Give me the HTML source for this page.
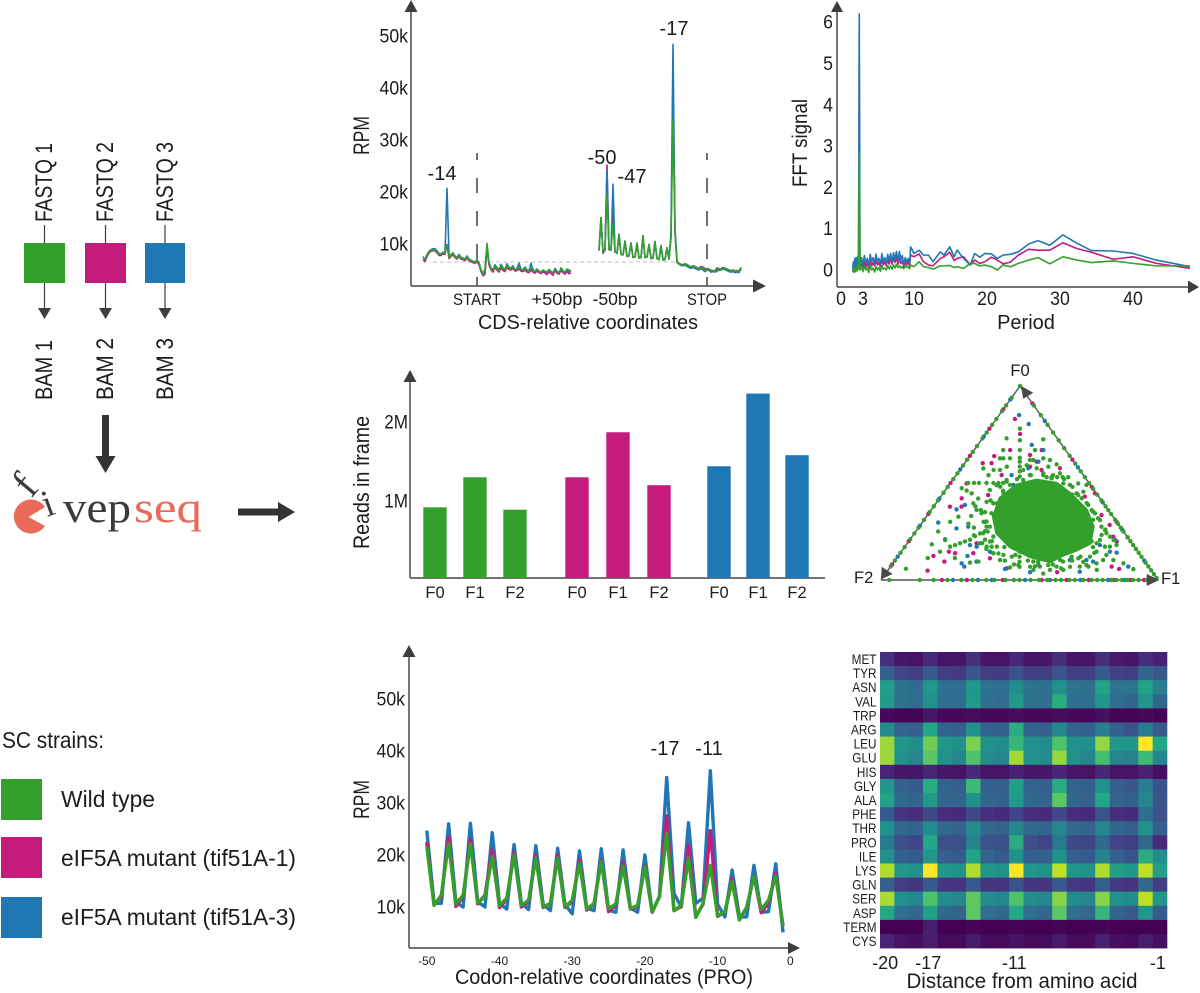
<!DOCTYPE html>
<html lang="en">
<head>
<meta charset="utf-8">
<title>fivepseq overview figure</title>
<style>
html,body{margin:0;padding:0;background:#fff;}
svg{display:block;font-family:"Liberation Sans",sans-serif;fill:#1c1c1c;}
.ax{stroke:#5f5f5f;stroke-width:1.7;fill:none;}
.hd{fill:#3d3d3d;stroke:none;}
</style>
</head>
<body>
<svg id="figure" xmlns="http://www.w3.org/2000/svg" width="1200" height="993" viewBox="0 0 1200 993">
<rect x="0" y="0" width="1200" height="993" fill="#fff"/>

<g>
  <line x1="44.5" y1="225" x2="44.5" y2="243" stroke="#3d3d3d" stroke-width="1.2"/>
  <line x1="105.5" y1="225" x2="105.5" y2="243" stroke="#3d3d3d" stroke-width="1.2"/>
  <line x1="165" y1="225" x2="165" y2="243" stroke="#3d3d3d" stroke-width="1.2"/>
  <text transform="translate(52,222) rotate(-90)" font-size="24" textLength="79" lengthAdjust="spacingAndGlyphs">FASTQ 1</text>
  <text transform="translate(113,222) rotate(-90)" font-size="24" textLength="80" lengthAdjust="spacingAndGlyphs">FASTQ 2</text>
  <text transform="translate(173,222) rotate(-90)" font-size="24" textLength="80" lengthAdjust="spacingAndGlyphs">FASTQ 3</text>
  <rect x="24" y="243" width="41" height="40" fill="#34a02c"/>
  <rect x="85" y="243" width="41" height="40" fill="#c51b7d"/>
  <rect x="145" y="243" width="40" height="40" fill="#1f78b4"/>
  <line x1="44.5" y1="283" x2="44.5" y2="310" stroke="#3d3d3d" stroke-width="1.2"/>
  <polygon class="hd" points="38,308 51,308 44.5,319"/>
  <line x1="105.5" y1="283" x2="105.5" y2="310" stroke="#3d3d3d" stroke-width="1.2"/>
  <polygon class="hd" points="99,308 112,308 105.5,319"/>
  <line x1="165" y1="283" x2="165" y2="310" stroke="#3d3d3d" stroke-width="1.2"/>
  <polygon class="hd" points="158.5,308 171.5,308 165,319"/>
  <text transform="translate(52,400) rotate(-90)" font-size="24" textLength="60" lengthAdjust="spacingAndGlyphs">BAM 1</text>
  <text transform="translate(113,400) rotate(-90)" font-size="24" textLength="62" lengthAdjust="spacingAndGlyphs">BAM 2</text>
  <text transform="translate(173,400) rotate(-90)" font-size="24" textLength="62" lengthAdjust="spacingAndGlyphs">BAM 3</text>
  <polygon fill="#333" points="102,415 109,415 109,456 115.5,456 105.5,473 95.5,456 102,456"/>
  <polygon fill="#333" points="238,508.5 278,508.5 278,502 295,512 278,522 278,515.5 238,515.5"/>
</g>

<g style="font-family:'Liberation Serif',serif">
  <path d="M28.5 517 L45 507 A17 17 0 1 0 45 526 Z" fill="#e96a58"/>
  <text transform="translate(31,499) rotate(-50)" font-size="42" fill="#3a3a3a">f</text>
  <text transform="translate(47,517) rotate(-20)" font-size="38" fill="#3a3a3a">i</text>
  <text x="63" y="522" font-size="43" fill="#3a3a3a" textLength="68" lengthAdjust="spacingAndGlyphs">vep</text>
  <text x="134" y="522" font-size="43" fill="#e96a58" textLength="68" lengthAdjust="spacingAndGlyphs">seq</text>
</g>

<g>
  <text x="2" y="748" font-size="23" textLength="102" lengthAdjust="spacingAndGlyphs">SC strains:</text>
  <rect x="1" y="779" width="41" height="41" fill="#34a02c"/>
  <text x="61" y="807" font-size="23" textLength="94" lengthAdjust="spacingAndGlyphs">Wild type</text>
  <rect x="1" y="837" width="41" height="41" fill="#c51b7d"/>
  <text x="61" y="866" font-size="23" textLength="235" lengthAdjust="spacingAndGlyphs">eIF5A mutant (tif51A-1)</text>
  <rect x="1" y="897" width="41" height="41" fill="#1f78b4"/>
  <text x="61" y="925" font-size="23" textLength="235" lengthAdjust="spacingAndGlyphs">eIF5A mutant (tif51A-3)</text>
</g>

<g id="meta">
  <line x1="433" y1="262" x2="677" y2="262" stroke="#bdbdbd" stroke-width="1" stroke-dasharray="4 3"/>
  <line x1="477" y1="153" x2="477" y2="286" stroke="#333" stroke-width="1.4" stroke-dasharray="15 18" stroke-dashoffset="8"/>
  <line x1="707" y1="153" x2="707" y2="286" stroke="#333" stroke-width="1.4" stroke-dasharray="15 18" stroke-dashoffset="8"/>
  <line class="ax" x1="411" y1="10" x2="411" y2="286"/>
  <line class="ax" x1="411" y1="286" x2="755" y2="286"/>
  <polygon class="hd" points="404.5,12 417.5,12 411,0"/>
  <polygon class="hd" points="753,279.5 753,292.5 766,286"/>
  <text transform="translate(369,155) rotate(-90)" font-size="22" textLength="39" lengthAdjust="spacingAndGlyphs">RPM</text>
  <text x="477" y="305" font-size="17" text-anchor="middle" textLength="48" lengthAdjust="spacingAndGlyphs">START</text>
  <text x="557" y="305" font-size="17.5" text-anchor="middle" textLength="51" lengthAdjust="spacingAndGlyphs">+50bp</text>
  <text x="615" y="305" font-size="17.5" text-anchor="middle" textLength="45" lengthAdjust="spacingAndGlyphs">-50bp</text>
  <text x="707" y="305" font-size="17" text-anchor="middle" textLength="40" lengthAdjust="spacingAndGlyphs">STOP</text>
  <text x="588" y="329" font-size="20" text-anchor="middle" textLength="220" lengthAdjust="spacingAndGlyphs">CDS-relative coordinates</text>
  <text x="442" y="180" font-size="20" text-anchor="middle">-14</text>
  <text x="602" y="164" font-size="20" text-anchor="middle">-50</text>
  <text x="632" y="183" font-size="20" text-anchor="middle">-47</text>
  <text x="674" y="35" font-size="20" text-anchor="middle">-17</text>
</g>

<g id="fft">
  <line class="ax" x1="837" y1="10" x2="837" y2="287"/>
  <line class="ax" x1="837" y1="287" x2="1190" y2="287"/>
  <polygon class="hd" points="831,12 843,12 837,1"/>
  <polygon class="hd" points="1188,280.5 1188,293.5 1199,287"/>
  <text transform="translate(807,187) rotate(-90)" font-size="21" textLength="88" lengthAdjust="spacingAndGlyphs">FFT signal</text>
  <text x="1026" y="329" font-size="20" text-anchor="middle">Period</text>
</g>

<g id="bars">
  <line class="ax" x1="410" y1="380" x2="410" y2="578"/>
  <line class="ax" x1="410" y1="578" x2="825" y2="578"/>
  <polygon class="hd" points="403.5,382 416.5,382 410,370"/>
  <text transform="translate(369,549) rotate(-90)" font-size="22" textLength="133" lengthAdjust="spacingAndGlyphs">Reads in frame</text>
</g>

<g id="ternary">
  <text x="1020" y="376" font-size="16.5" text-anchor="middle">F0</text>
  <text x="1161" y="584" font-size="16.5">F1</text>
  <text x="854" y="583" font-size="16.5">F2</text>
</g>

<g id="codon">
  <line class="ax" x1="409" y1="655" x2="409" y2="948"/>
  <line class="ax" x1="409" y1="948" x2="790" y2="948"/>
  <polygon class="hd" points="402.5,657 415.5,657 409,645"/>
  <polygon class="hd" points="788,942 788,954 800,948"/>
  <text transform="translate(369,819) rotate(-90)" font-size="22" textLength="39" lengthAdjust="spacingAndGlyphs">RPM</text>
  <text x="604" y="984" font-size="21" text-anchor="middle" textLength="298" lengthAdjust="spacingAndGlyphs">Codon-relative coordinates (PRO)</text>
  <text x="665" y="755" font-size="20" text-anchor="middle">-17</text>
  <text x="709" y="755" font-size="20" text-anchor="middle">-11</text>
</g>

<g id="heat">
  <text x="1022" y="988" font-size="21" text-anchor="middle" textLength="231" lengthAdjust="spacingAndGlyphs">Distance from amino acid</text>
</g>

<script>
var SERIES_COLORS = { green: '#34a02c', magenta: '#c51b7d', blue: '#1f78b4' };

/* ---------- CDS metagene data (RPM, thousands) ---------- */
var metaTickValues = [10, 20, 30, 40, 50];
var metaTickLabels = ['10k', '20k', '30k', '40k', '50k'];
var startFirstPosition = -27;
var startMagenta = [7.0,6.6,7.6,8.3,8.6,8.7,8.7,8.3,7.8,7.8,8.1,8.0,9.9,7.2,7.6,7.9,7.4,7.1,7.6,7.1,7.0,6.8,7.3,6.8,6.6,6.4,6.3,6.6,6.0,4.7,3.9,4.2,9.0,6.0,5.0,4.6,5.5,5.0,4.6,5.4,4.9,4.7,5.5,5.1,5.0,5.3,4.8,4.9,5.2,4.8,4.7,5.0,4.6,4.5,5.0,4.6,4.4,4.8,4.5,4.3,4.7,4.4,4.1,4.7,4.3,4.0,4.9,4.4,4.2,4.9,4.5,4.2,4.7,4.3,4.4];
var startBlue = [7.6,6.9,7.9,8.6,8.9,9.1,9.1,8.7,8.2,8.1,8.4,8.2,20.7,8.0,7.9,8.3,7.7,7.4,8.0,7.4,7.3,7.1,7.7,7.1,6.9,6.7,6.5,7.0,6.4,5.1,4.2,4.5,9.6,6.4,5.4,5.0,6.0,5.5,5.0,6.1,5.4,5.1,6.2,5.5,5.4,5.8,5.1,5.3,6.3,5.2,5.0,5.6,5.0,4.8,6.3,5.1,4.7,5.2,4.8,4.5,5.0,4.7,4.5,5.1,4.7,4.4,5.3,4.8,4.4,5.4,4.9,4.5,5.0,4.6,4.8];
var startGreen = [7.5,7.0,8.0,8.5,8.7,8.9,8.9,8.6,8.0,8.0,8.4,8.3,9.8,7.4,7.8,8.2,7.6,7.3,7.9,7.3,7.2,7.0,7.6,7.0,6.8,6.6,6.5,6.9,6.4,5.0,4.2,5.2,10.1,6.5,5.3,4.9,5.8,5.3,4.9,5.8,5.2,5.0,5.9,5.4,5.3,5.6,5.1,5.2,5.6,5.1,5.0,5.4,5.0,4.8,5.3,4.9,4.7,5.1,4.8,4.6,5.0,4.8,4.6,5.0,4.7,4.5,5.0,4.7,4.5,5.2,4.8,4.6,5.2,5.0,4.8];
var stopFirstPosition = -54;
var stopMagenta = [8.7,15.1,8.2,8.8,25.2,8.9,8.8,16.0,8.5,8.2,11.8,8.0,7.9,10.5,7.6,7.7,10.2,7.4,7.5,10.1,7.3,7.4,11.5,7.4,7.5,9.9,7.2,7.3,10.4,7.2,7.0,9.7,6.9,7.0,9.3,7.1,11.5,40.0,12.5,6.6,6.3,6.1,6.0,6.2,5.9,5.7,5.6,5.8,5.6,5.4,5.3,5.7,5.4,5.1,5.3,5.1,4.8,4.9,4.8,5.4,5.1,5.2,5.5,5.3,5.1,5.0,4.9,5.0,4.8,4.9,4.8,5.4];
var stopBlue = [8.8,15.0,8.4,8.8,24.2,9.0,8.9,21.5,8.5,8.3,11.9,8.1,8.0,10.6,7.7,7.8,10.2,7.5,7.6,10.2,7.4,7.5,11.6,7.5,7.6,9.9,7.3,7.4,10.5,7.3,7.1,9.7,7.0,7.1,9.3,7.2,12.0,48.4,13.0,6.5,6.1,5.9,5.8,6.0,5.7,5.5,5.3,5.5,5.3,5.1,5.0,5.3,5.0,4.7,5.0,4.9,4.6,4.7,4.6,5.1,4.9,5.0,5.3,5.1,4.9,4.7,4.6,4.7,4.5,4.6,4.5,5.2];
var stopGreen = [9.0,15.0,8.5,9.0,19.5,9.0,9.0,14.0,8.5,8.2,11.7,8.0,7.9,10.4,7.6,7.7,10.1,7.4,7.5,10.1,7.3,7.4,11.4,7.4,7.5,9.8,7.2,7.3,10.4,7.2,7.0,9.6,6.9,7.0,9.2,7.1,11.0,34.0,12.0,6.4,6.2,6.0,5.9,5.9,6.1,5.8,5.6,5.5,5.7,5.5,5.3,5.2,5.6,5.3,4.9,5.2,5.0,4.7,4.8,4.7,5.3,5.0,5.1,5.4,5.2,5.0,4.9,4.8,4.9,4.7,4.8,5.5];

/* ---------- FFT data ---------- */
var fftYTicks = [0, 1, 2, 3, 4, 5, 6];
var fftXTicks = [0, 3, 10, 20, 30, 40];
var fftPeriods = [1.6,1.7,1.8,1.9,2,2.1,2.2,2.3,2.4,2.5,2.6,
 2.8,3,3.2,3.4,3.6,3.8,4,4.2,4.4,4.6,
 4.8,5,5.2,5.4,5.6,5.8,6,6.2,6.4,6.6,
 6.8,7,7.2,7.4,7.6,7.8,8,8.2,8.4,8.6,
 8.8,9,9.2,9.4,
 9.54,10,10.7,11.3,12,12.6,13.6,14.1,14.9,15.5,15.9,16.8,17.7,18.3,19,19.7,20.6,21.4,22.2,23.2,24.3,25.7,27,28.6,30.4,32.3,34.3,37.3,40,43.2,47.8];
var fftBlue = [.05,.2,.02,.28,.08,.3,.1,.33,.15,6.2,.12,
 .3,.12,.35,.15,.28,.1,.38,.2,.3,.15,
 .38,.2,.28,.12,.4,.2,.3,.15,.38,.22,
 .4,.18,.42,.25,.45,.2,.45,.25,.35,.12,
 .3,.2,.28,.15,
 .56,.40,.48,.36,.36,.20,.44,.36,.56,.32,.48,.28,.12,.40,.31,.40,.39,.28,.36,.38,.44,.63,.71,.60,.85,.65,.47,.46,.40,.24,.08];
var fftMagenta = [0,.1,-.02,.15,.03,.16,.05,.18,.08,5.0,.06,
 .16,.06,.2,.08,.16,.06,.22,.1,.18,.1,
 .22,.12,.18,.08,.24,.12,.2,.1,.26,.14,
 .28,.14,.3,.18,.3,.14,.28,.16,.22,.08,
 .2,.12,.2,.1,
 .36,.32,.39,.20,.12,.10,.28,.32,.43,.23,.28,.32,.12,.24,.16,.20,.31,.24,.15,.19,.36,.50,.48,.48,.66,.52,.43,.26,.32,.16,.04];
var fftGreen = [-.05,.03,-.06,.06,-.04,.07,-.02,.1,.02,2.86,.0,
 .08,-.04,.1,0,.06,-.06,.1,0,.05,-.05,
 .08,0,.06,-.03,.1,.02,.05,0,.1,.03,
 .1,.02,.12,.05,.14,.06,.1,.05,.08,.03,
 .1,.06,.08,.03,
 .12,.08,.20,.08,.06,.02,.10,.10,.11,.06,.08,.04,.16,.16,.10,.12,.08,0,.12,.08,.16,.24,.30,.15,.32,.24,.18,.22,.16,.10,.10];

/* ---------- Reads in frame data (millions) ---------- */
var barFrames = ['F0', 'F1', 'F2'];
var barYTicks = [1, 2];
var barYLabels = ['1M', '2M'];
var readsGreen = [0.92, 1.30, 0.89];
var readsMagenta = [1.30, 1.87, 1.20];
var readsBlue = [1.44, 2.36, 1.58];

/* ---------- Ternary data (percent of reads in F0 and F1) ---------- */
var denseCloudF0 = [32.6,42.1,49,51.5,49.8,44.7,36.1,27.5,18.9,15.5,12.9,9.4,12,17.2,24.1];
var denseCloudF1 = [24.2,21.8,24.4,30.3,38.4,45.8,56.1,62.8,66,62.9,59.4,56.3,47.8,37.9,29.7];
var edgeLeftF0 = [3,7,10,14,17,21,24,27,31,35,38,41,45,48,52,55,59,62,66,69,73,76,80,83,87,90,94,100];
var edgeRightF0 = [1,3,5,7,9,12,14,16,18,20,22,25,27,29,31,34,36,38,41,44,47,50,53,56,60,64,68,72,76,80,85,90];
var edgeBottomF1 = [3,14,19,24,29,33,38,41,45,48,50,54,57,60,63,65,68,70,73,76,78,80,83,85,87,89,91,93,96];
var magentaEdgeLeftF0 = [8,20,34,50,64,78,88];
var magentaEdgeRightF0 = [22,30,48,62,91];
var magentaEdgeBottomF1 = [22,31,44,58,67,75,84,90,95];
var blueEdgeLeftF0 = [12,28,42,57,74,93];
var blueEdgeRightF0 = [10,26,40,58,82];
var blueEdgeBottomF1 = [26,35,40,52,61,72,82,88];
var magentaF0 = [83,75.3,67,63.9,60.2,60.2,64.4,67,61,49.8,42.1,37.8,37.8,14.6,12.4,9.5,4.8,13.8,13.8,18.9,43.8,11.2,6,4,43,33.5,28.4,22.3,19.8,6.9,5.7,44.7,57.6,56.7,58.4,54.1,43.8];
var magentaF1 = [6.7,12.4,13,8.8,6.5,9.7,21.5,24.4,25.6,5.9,8,5.9,10.1,17.2,12.7,18.1,14.4,19.8,26.4,25,16.7,33.7,42.4,61.6,52,62.8,68.3,72.7,75.2,79.8,83.1,54.8,35.7,29.5,24.5,16.4,24.6];
var blueF0 = [85,80.4,69.6,67,61,57.6,54.1,36.4,38.7,29.6,21,26.6,27.5,18,17.2,8.6,6.9,12.4,9.5,14.6,13.8,5.7,4,7.8,4.3,10.3,14.1,6.9,20.6,9.5,10.3,19,30,49,18,14.6];
var blueF1 = [7.2,13,19.5,25,26.2,24.3,20,9,10.9,5.8,12.6,13.9,17.7,23.1,25.9,24.8,26.6,25,29.7,32,33.6,41.9,51.8,52.9,69.6,69,78,85.8,74.2,71.8,63,41.3,22.5,23.2,70,75.3];
var greenF0 = [78,72,67,63,61,58.5,56,53.3,14.6,12,9.4,6.8,
 50,50,50,50,50,50,50,
 17.2,18,19,19.9,20.8,22.6,24,25.2,
 20.8,17.2,13.7,10,6.5,
 53,53,53,53,53,
 72.5,67,61.8,59.6,
 30.9,25.8,22.3,18,34.4,23.2,19,10.3,8.6,5.6,5.2,6.9,9.4,43.8,39.6,
 6.8,9.4,3.3,10.3,6.8,
 5.8,11.3,18.4,14.6,25,20.6,30,32.6,47.3,46.1,44.7,11.3,9,9.5,
 40.3,46.4,48.9,73,67,62.7,57.5,56.7,54,51.5,61.8,59.2,
 52,54,55,54,52,48,44,40,36,31,26,
 7,8,6,10,12,14,17,20,13,17,20,25,30,35,41,46,10,8,
 36,33,29,38,42,27,23,16,19,
 49,44.7,39.5,34.4,30.1,27.5,39.5,48.1,50.7,51.5,54.1,54.1,52.4,49.8,49,44.7,42.1,38.7,35.2,31.8,27.5,24.1,20.6,17.2,14.6,12,7.7,11.2,12,9.5,6.9,7.7,6.9,9.5,13.8,7.7,12,12.9,17.2,19.8,22.4,27.5,24.1,
 17.2,12.9,20.6,10.3,8.6,6.9,5.2,5.2,5.2,18.9,17.2,13.8,10.3,39.5,36.1,34.4,
 55,58.4,57.6,56.7,58.4,56.7,62.7,62.7,62.7,61.9,49.8,49,45.5];
var greenF1 = [11,14,16.5,18.5,19.5,20.75,22,23.35,42.7,44,45.3,46.6,
 6.4,8.5,10.3,13,15.5,17.3,19,
 16.3,17.7,19,20.3,21.7,22.6,23.7,24.9,
 27.1,31.3,35.5,39.7,43.3,
 33.2,35,37,39,41,
 22.2,22,30,33.5,
 63.6,67.9,71.5,76,60,68,68.3,78.7,83.2,88.3,75.3,71.4,68.3,49.2,54.4,
 50.4,52,56.9,59.5,64.8,
 6.1,11.2,9.1,14,8.1,12.8,9.9,11.6,5.4,7.8,10.3,21,27.6,30.4,
 17.9,16,17.2,8.7,10.5,11.5,8.1,12.2,11.7,19.5,24,22.9,
 23,27,31,35,40,45,47,50,58,61,68,
 52,58,62,64,66,70,68,66,42,36,30,26,22,20,19,21,48,44,
 18,16,17,15,14,20,22,30,27,
 22,21.8,22,22.6,23,25.5,20.7,18.9,19.9,25.5,26.6,31.4,35.3,40.8,43.6,48.2,51.3,55.4,58.9,62.4,65.8,69.3,68.7,72.2,70.5,69.4,70.3,65.6,62.8,61,59.9,56.5,53.9,50.2,45.1,45.7,41.2,37.7,33.2,29.4,29.3,24.3,24.8,
 74,74.9,73.6,75,73.5,68.3,63.2,58.4,52.4,26.2,29.5,33.6,37.8,13.5,16.4,19,
 37,31.1,27.3,22.9,16.1,14.5,15.1,12.7,27.1,22.7,46.2,49.6,50.2];

/* ---------- Codon-relative data (RPM, thousands), positions -50..-1 ---------- */
var codonXTicks = [-50, -40, -30, -20, -10, 0];
var codonYTicks = [10, 20, 30, 40, 50];
var codonYLabels = ['10k', '20k', '30k', '40k', '50k'];
var codonFirstPosition = -50;
var codonBlue = [24.7,10.7,10.7,26,10.9,10,26.1,11,10,24.3,10.7,9.6,22,10.8,9.5,21.8,10.5,9.3,21.3,10.5,8.7,20.8,9.8,9.3,21.2,9.4,9,21,9.8,9,20,9,12,34.9,12.6,10,26.2,10.7,11.7,36.2,10.5,8.1,17.1,8.1,8.1,18,9,9.1,18.3,5.1];
var codonMagenta = [22.5,10.4,12,23.5,10.1,12,23,10.6,12.3,21,9.9,11.5,20.5,10,11,20,9.9,10.6,20,9.9,11,19,9.4,10.6,19,9.1,10.4,18.5,9.6,10.1,18,9,12,27.5,9.3,10.1,21.9,8.2,10.5,24.7,8.2,9,15.5,7.6,9.8,16,8.9,10.8,16.5,6.3];
var codonGreen = [21.6,10.3,12.3,22.2,10.6,12.3,22.2,10.8,12,19.7,10.3,11.7,20,10.3,11.3,19.4,10,10.7,19.4,10,11.3,18.4,9.6,10.7,18.7,9.7,10.6,17.8,9.7,10.3,17.8,9.1,12,24.2,9.3,10.3,19.4,8,10.7,18,8.3,9.1,14.9,7.5,10,15.9,9.5,11.3,15.9,6.3];

/* ---------- Heatmap data (0-100 colour scale) ---------- */
var heatRows = ['MET','TYR','ASN','VAL','TRP','ARG','LEU','GLU','HIS','GLY','ALA','PHE','THR','PRO','ILE','LYS','GLN','SER','ASP','TERM','CYS'];
var heatColumnLabels = ['-20', '-17', '-11', '-1'];
var heatColumnLabelDistances = [-20, -17, -11, -1];
var heatMET = [14,6,5,12,6,6,14,6,5,11,6,6,13,6,6,13,7,6,13,9];
var heatTYR = [30,20,18,28,18,17,27,18,17,25,18,18,25,18,18,28,19,18,33,27];
var heatASN = [55,38,35,52,37,36,52,38,36,48,38,36,50,38,36,58,38,38,58,42];
var heatVAL = [54,38,35,50,36,35,54,37,35,53,38,36,62,37,36,52,36,33,52,33];
var heatTRP = [2,1,1,6,2,2,3,2,2,3,2,2,3,2,2,4,1,1,2,1];
var heatARG = [48,32,30,60,32,30,50,32,30,62,32,30,46,32,30,42,30,26,42,28];
var heatLEU = [85,52,48,78,52,50,80,50,48,66,50,48,72,50,50,84,52,52,100,60];
var heatGLU = [85,50,46,74,50,46,72,48,46,86,50,48,84,50,46,70,46,44,68,46];
var heatHIS = [10,6,6,10,6,5,12,5,5,9,6,6,11,6,5,11,5,5,9,4];
var heatGLY = [52,30,28,62,32,30,68,30,30,56,32,30,62,32,30,50,30,27,42,26];
var heatALA = [58,34,32,54,33,32,50,33,31,54,34,32,74,33,31,60,32,30,46,26];
var heatPHE = [28,15,13,22,13,12,22,14,12,20,13,12,22,13,12,26,13,12,36,25];
var heatTHR = [50,34,32,48,34,32,48,34,32,46,34,32,46,34,32,46,33,30,50,30];
var heatPRO = [40,24,20,60,24,24,44,26,24,62,24,20,40,22,20,34,20,18,34,12];
var heatILE = [50,30,28,52,30,28,58,32,28,50,30,30,50,30,28,44,30,26,62,48];
var heatLYS = [88,52,50,100,52,50,88,52,50,100,52,50,90,52,50,88,56,52,90,56];
var heatGLN = [30,18,16,28,16,15,28,16,15,26,16,15,28,17,15,30,17,15,34,18];
var heatSER = [87,50,46,72,48,46,75,48,46,72,48,46,82,48,46,82,50,48,90,52];
var heatASP = [60,36,34,56,34,32,74,36,34,60,36,34,74,36,34,66,32,28,52,28];
var heatTERM = [0,0,0,8,0,0,1,0,0,1,0,0,1,0,0,1,0,0,0,0];
var heatCYS = [10,5,4,8,3,3,7,3,3,5,3,3,7,3,3,9,4,3,8,4];

/* ---------- helpers ---------- */
var NS = 'http://www.w3.org/2000/svg';
function mk(tag, parent, attrs) {
  var e = document.createElementNS(NS, tag);
  for (var k in attrs) e.setAttribute(k, attrs[k]);
  parent.appendChild(e);
  return e;
}
function polyPoints(xs, ys) {
  return xs.map(function (x, i) { return x.toFixed(2) + ',' + ys[i].toFixed(2); }).join(' ');
}
function lineX(values, first, xScale) {
  return values.map(function (_, i) { return xScale(first + i); });
}
function narrow(t, factor) {
  t.setAttribute('textLength', (t.getComputedTextLength() * factor).toFixed(2));
  t.setAttribute('lengthAdjust', 'spacingAndGlyphs');
}

/* ---------- CDS metagene ---------- */
(function () {
  var g = document.getElementById('meta');
  var y = function (v) { return 296 - 5.2 * v; };
  var xStart = function (p) { return 477 + 2 * p; };
  var xStop = function (p) { return 707 + 2 * p; };
  metaTickValues.forEach(function (v, i) {
    var t = mk('text', g, { x: 408, y: y(v) + 6.5, 'font-size': 19, 'text-anchor': 'end' });
    t.textContent = metaTickLabels[i];
    
    
    narrow(t, 0.93);
  });
  [[startMagenta, SERIES_COLORS.magenta], [startBlue, SERIES_COLORS.blue], [startGreen, SERIES_COLORS.green]].forEach(function (s) {
    var l = mk('polyline', g, { points: polyPoints(lineX(s[0], startFirstPosition, xStart), s[0].map(y)), fill: 'none', stroke: s[1], 'stroke-width': 1.6, 'stroke-linejoin': 'round' });
    
    
  });
  [[stopMagenta, SERIES_COLORS.magenta], [stopBlue, SERIES_COLORS.blue], [stopGreen, SERIES_COLORS.green]].forEach(function (s) {
    var l = mk('polyline', g, { points: polyPoints(lineX(s[0], stopFirstPosition, xStop), s[0].map(y)), fill: 'none', stroke: s[1], 'stroke-width': 1.6, 'stroke-linejoin': 'round' });
    
    
  });
})();

/* ---------- FFT ---------- */
(function () {
  var g = document.getElementById('fft');
  var x = function (p) { return 841 + 7.3 * p; };
  var y = function (v) { return 270 - 41.3 * v; };
  fftYTicks.forEach(function (v) {
    var t = mk('text', g, { x: 833, y: y(v) + 6.5, 'font-size': 19, 'text-anchor': 'end' });
    t.textContent = String(v);
    
    
    narrow(t, 0.93);
  });
  fftXTicks.forEach(function (v) {
    var t = mk('text', g, { x: x(v), y: 305, 'font-size': 19, 'text-anchor': 'middle' });
    t.textContent = String(v);
    
    
    narrow(t, 0.93);
  });
  [[fftMagenta, SERIES_COLORS.magenta], [fftBlue, SERIES_COLORS.blue], [fftGreen, SERIES_COLORS.green]].forEach(function (s) {
    var l = mk('polyline', g, { points: polyPoints(fftPeriods.map(x), s[0].map(y)), fill: 'none', stroke: s[1], 'stroke-width': 1.6, 'stroke-linejoin': 'round' });
    
    
  });
})();

/* ---------- Bars ---------- */
(function () {
  var g = document.getElementById('bars');
  var y = function (v) { return 580 - 79 * v; };
  var inner = [40, 41, 39];
  var groups = [[readsGreen, SERIES_COLORS.green], [readsMagenta, SERIES_COLORS.magenta], [readsBlue, SERIES_COLORS.blue]];
  var center = function (gi, fi) { return 435 + 142 * gi + inner[gi] * fi; };
  barYTicks.forEach(function (v, i) {
    var t = mk('text', g, { x: 408, y: y(v) + 6.5, 'font-size': 19, 'text-anchor': 'end' });
    t.textContent = barYLabels[i];
    
    
    narrow(t, 0.9);
  });
  groups.forEach(function (s, gi) {
    s[0].forEach(function (v, fi) {
      var r = mk('rect', g, { x: center(gi, fi) - 11.7, y: y(v), width: 23.4, height: 578 - y(v), fill: s[1] });
      
      
      var t = mk('text', g, { x: center(gi, fi), y: 598, 'font-size': 16.5, 'text-anchor': 'middle' });
      t.textContent = barFrames[fi];
      
      
    });
  });
})();

/* ---------- Ternary ---------- */
(function () {
  var g = document.getElementById('ternary');
  var px = function (f0, f1) { return 881 + 2.77 * f1 + 1.39 * f0; };
  var py = function (f0) { return 580 - 1.94 * f0; };
  function dots(f0s, f1s, color) {
    f0s.forEach(function (f0, i) {
      var c = mk('circle', g, { cx: px(f0, f1s[i]), cy: py(f0), r: 2.2, fill: color });
      
      
    });
  }
  function edges(leftF0, rightF0, bottomF1, color) {
    dots(leftF0, leftF0.map(function () { return 0; }), color);
    dots(rightF0, rightF0.map(function (f) { return 100 - f; }), color);
    dots(bottomF1.map(function () { return 0; }), bottomF1, color);
  }
  var edgeLines = mk('path', g, { d: 'M1020 386 L881 580 M881 580 L1158 580 M1158 580 L1020 386', stroke: '#555', 'stroke-width': 1.4, fill: 'none' });
  
  
  edges(magentaEdgeLeftF0, magentaEdgeRightF0, magentaEdgeBottomF1, SERIES_COLORS.magenta);
  edges(blueEdgeLeftF0, blueEdgeRightF0, blueEdgeBottomF1, SERIES_COLORS.blue);
  dots(magentaF0, magentaF1, SERIES_COLORS.magenta);
  dots(blueF0, blueF1, SERIES_COLORS.blue);
  edges(edgeLeftF0, edgeRightF0, edgeBottomF1, SERIES_COLORS.green);
  dots(greenF0, greenF1, SERIES_COLORS.green);
  var cloud = mk('polygon', g, { points: polyPoints(denseCloudF0.map(function (f0, i) { return px(f0, denseCloudF1[i]); }), denseCloudF0.map(py)), fill: SERIES_COLORS.green, stroke: SERIES_COLORS.green, 'stroke-width': 3, 'stroke-linejoin': 'round' });
  
  
  var headTop = mk('polygon', g, { points: '1020.7,385.7 1033.3,392.7 1023.3,398.7', fill: '#4a4a4a' });
  
  
  var headLeft = mk('polygon', g, { points: '881,579.3 881.7,566.7 892.7,574', fill: '#4a4a4a' });
  
  
  var headRight = mk('polygon', g, { points: '1159.3,580 1146.7,574 1146.7,586', fill: '#4a4a4a' });
  
  
})();

/* ---------- Codon-relative ---------- */
(function () {
  var g = document.getElementById('codon');
  var x = function (p) { return 790.3 + 7.27 * p; };
  var y = function (v) { return 959 - 5.2 * v; };
  codonYTicks.forEach(function (v, i) {
    var t = mk('text', g, { x: 405, y: y(v) + 6.5, 'font-size': 19, 'text-anchor': 'end' });
    t.textContent = codonYLabels[i];
    
    
    narrow(t, 0.93);
  });
  codonXTicks.forEach(function (v) {
    var t = mk('text', g, { x: x(v), y: 965, 'font-size': 12, 'text-anchor': 'middle' });
    t.textContent = String(v);
    
    
  });
  [[codonBlue, SERIES_COLORS.blue], [codonMagenta, SERIES_COLORS.magenta], [codonGreen, SERIES_COLORS.green]].forEach(function (s) {
    var l = mk('polyline', g, { points: polyPoints(lineX(s[0], codonFirstPosition, x), s[0].map(y)), fill: 'none', stroke: s[1], 'stroke-width': 3.4, 'stroke-linejoin': 'round' });
    
    
  });
})();

/* ---------- Heatmap ---------- */
(function () {
  var g = document.getElementById('heat');
  var matrix = [heatMET,heatTYR,heatASN,heatVAL,heatTRP,heatARG,heatLEU,heatGLU,heatHIS,heatGLY,heatALA,heatPHE,heatTHR,heatPRO,heatILE,heatLYS,heatGLN,heatSER,heatASP,heatTERM,heatCYS];
  var stops = [[68,1,84],[72,36,117],[65,68,135],[53,95,141],[42,120,142],[33,145,140],[34,168,132],[68,191,112],[122,209,81],[189,223,38],[253,231,37]];
  function colour(v) {
    var t = Math.max(0, Math.min(100, v)) / 10;
    var i = Math.min(9, Math.floor(t));
    var f = t - i;
    var c = stops[i].map(function (a, k) { return Math.round(a + (stops[i + 1][k] - a) * f); });
    return 'rgb(' + c.join(',') + ')';
  }
  var cw = 14.35, rh = 14.1, x0 = 880, y0 = 652;
  var colX = function (d) { return x0 + (d + 20) * cw; };
  matrix.forEach(function (row, r) {
    row.forEach(function (v, c) {
      var cell = mk('rect', g, { x: x0 + c * cw, y: y0 + r * rh, width: cw + 0.3, height: rh + 0.3, fill: colour(v) });
      
      
    });
    var t = mk('text', g, { x: 876.5, y: y0 + r * rh + 12, 'font-size': 14, 'text-anchor': 'end' });
    t.textContent = heatRows[r];
    
    
    narrow(t, 0.84);
  });
  heatColumnLabels.forEach(function (lab, i) {
    var t = mk('text', g, { x: colX(heatColumnLabelDistances[i]) + cw / 2 - 2, y: 969, 'font-size': 18, 'text-anchor': 'middle' });
    t.textContent = lab;
    
    
  });
})();
</script>
</svg>
</body>
</html>
